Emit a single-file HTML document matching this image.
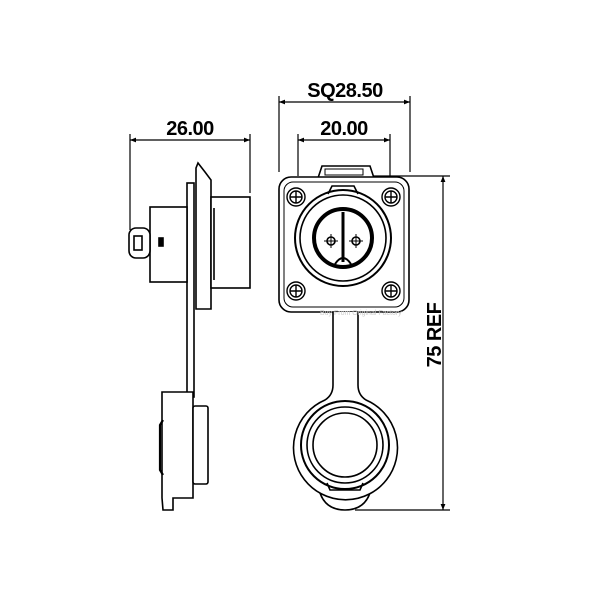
<!DOCTYPE html>
<html><head><meta charset="utf-8"><style>html,body{margin:0;padding:0;background:#fff}svg{display:block}</style></head>
<body>
<svg width="600" height="600" viewBox="0 0 600 600" xmlns="http://www.w3.org/2000/svg">
<defs>
<marker id="a" viewBox="0 0 10 10" refX="10" refY="5" markerWidth="10" markerHeight="6" orient="auto-start-reverse" markerUnits="userSpaceOnUse"><path d="M0,1 L10,5 L0,9 z" fill="#000"/></marker>
</defs>
<g font-family="Liberation Sans, sans-serif" font-weight="bold" font-size="20" fill="#000" text-anchor="middle" letter-spacing="-0.5">
<text x="345" y="97">SQ28.50</text>
<text x="344" y="135">20.00</text>
<text x="190" y="135">26.00</text>
<text transform="translate(441,335) rotate(-90)">75 REF</text>
</g>
<g stroke="#000" stroke-width="1.2" fill="none">
<line x1="279" y1="102" x2="410" y2="102" marker-start="url(#a)" marker-end="url(#a)"/>
<line x1="279" y1="96" x2="279" y2="172"/><line x1="410" y1="96" x2="410" y2="172"/>
<line x1="298" y1="140" x2="390" y2="140" marker-start="url(#a)" marker-end="url(#a)"/>
<line x1="298" y1="134" x2="298" y2="176"/><line x1="390" y1="134" x2="390" y2="176"/>
<line x1="130" y1="140" x2="250" y2="140" marker-start="url(#a)" marker-end="url(#a)"/>
<line x1="130" y1="134" x2="130" y2="230"/><line x1="250" y1="134" x2="250" y2="193"/>
<line x1="443" y1="176" x2="443" y2="510" marker-start="url(#a)" marker-end="url(#a)"/>
<line x1="372" y1="176" x2="450" y2="176"/><line x1="355" y1="510" x2="450" y2="510"/>
</g>
<g stroke="#000" stroke-width="1.6" fill="#fff">
<rect x="187" y="183" width="7" height="214"/>
<path d="M196,309 L196,168 L198,163 L205,172 L211,180 L211,309 Z"/>
<rect x="211" y="197" width="39" height="91"/>
<line x1="214" y1="208" x2="214" y2="280"/>
<rect x="150" y="207" width="37" height="75"/>
<rect x="129" y="228" width="21" height="30" rx="7"/>
<rect x="134" y="236" width="8" height="14"/>
<rect x="159" y="238" width="4" height="8" fill="#000"/>
<path d="M193,392 L162,392 L162,498 L163,510 L173,510 L173,498 L193,498 Z"/>
<rect x="193" y="406" width="15" height="78" rx="2"/>
<path d="M163,420 L160,425 L160,470 L163,475" fill="none" stroke-width="2.2"/>
<path d="M318,178 L322,166 L370,166 L374,178"/>
<rect x="325" y="169" width="38" height="6" fill="#fff" stroke-width="1"/>
<rect x="279" y="177" width="130" height="135" rx="12"/>
<rect x="284" y="182" width="120" height="125" rx="9" fill="none" stroke-width="1"/>
<path d="M318,485 Q322,510 345,510 Q368,510 372,485" fill="#fff"/>
<path d="M333,312 L333,385 Q333,395 325,400 A52,52 0 1 0 366,400 Q358,395 358,385 L358,312"/>
<circle cx="345" cy="445" r="44" stroke-width="2"/>
<circle cx="345" cy="445" r="38" fill="none"/>
<circle cx="345" cy="445" r="32"/>
<path d="M327,483 L330,490 L360,490 L363,483" fill="none"/>
<circle cx="343" cy="238" r="48" stroke-width="2"/>
<circle cx="343" cy="238" r="43" fill="none"/>
<path d="M328,194 L332,186 L354,186 L358,194" fill="none"/>
<circle cx="343" cy="238" r="29" stroke-width="4"/>
<line x1="343" y1="212" x2="343" y2="262" stroke-width="3"/>
<path d="M335,264 Q343,252 351,264" fill="none" stroke-width="2"/>
<circle cx="331" cy="241" r="4" fill="none"/><line x1="324" y1="241" x2="338" y2="241" stroke-width="1"/><line x1="331" y1="234" x2="331" y2="248" stroke-width="1"/>
<circle cx="356" cy="241" r="4" fill="none"/><line x1="349" y1="241" x2="363" y2="241" stroke-width="1"/><line x1="356" y1="234" x2="356" y2="248" stroke-width="1"/>
<g stroke-width="1.4">
<circle cx="296" cy="197" r="9"/><circle cx="296" cy="197" r="6"/><path d="M290,197 H302 M296,191 V203"/>
<circle cx="391" cy="197" r="9"/><circle cx="391" cy="197" r="6"/><path d="M385,197 H397 M391,191 V203"/>
<circle cx="296" cy="291" r="9"/><circle cx="296" cy="291" r="6"/><path d="M290,291 H302 M296,285 V297"/>
<circle cx="391" cy="291" r="9"/><circle cx="391" cy="291" r="6"/><path d="M385,291 H397 M391,285 V297"/>
</g>
</g>
<text x="320" y="315" font-family="Liberation Sans, sans-serif" font-size="7" fill="#ccc">Buy From Original Factory</text>
</svg>
</body></html>
